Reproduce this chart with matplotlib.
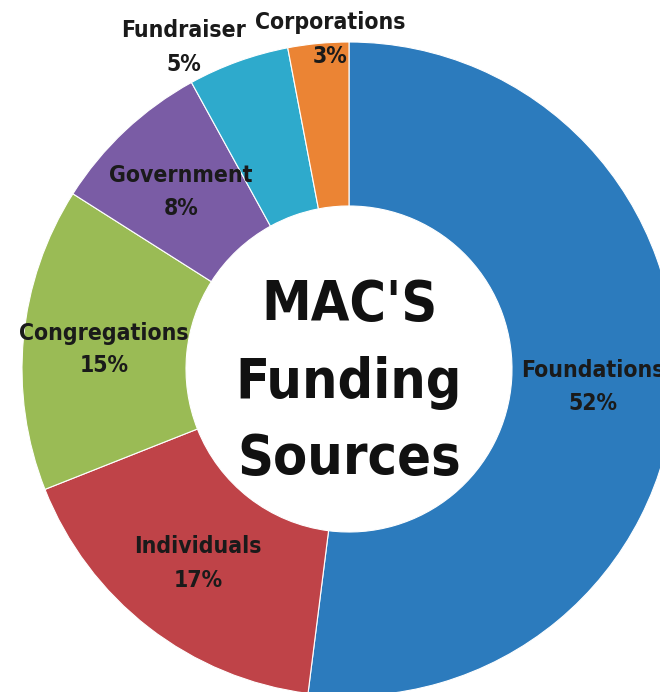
import matplotlib.pyplot as plt

# funding sources, clockwise from the top
sources = ["Foundations", "Individuals", "Congregations", "Government", "Fundraiser", "Corporations"]
shares = [52, 17, 15, 8, 5, 3]
colors = ["#2C7BBD", "#BF4348", "#9ABB55", "#7A5CA5", "#2EAACC", "#EB8434"]

# label anchors in pixel coords from top: x, baseline of name, baseline of percent
label_pos = [(593, 377, 410), (198, 553, 587), (104, 340, 372),
             (181, 182, 215), (184, 37, 71), (330, 29, 63)]

centre_words = ["MAC'S", "Funding", "Sources"]
centre_base = [320, 398, 474]

W, H = 660, 692
fig = plt.figure(figsize=(W / 100, H / 100), dpi=100)
ax = fig.add_axes([0, 0, 1, 1])

cx, cy, r, r_in = 349, H - 369, 327, 163
ax.pie(shares, colors=colors, startangle=90, counterclock=False,
       radius=r, center=(cx, cy), frame=True,
       wedgeprops=dict(width=r - r_in, edgecolor="white", linewidth=0.8))
ax.set_xlim(0, W)
ax.set_ylim(0, H)
ax.set_aspect("equal")
ax.axis("off")

fam = ["DejaVu Sans"]
for name, val, (x, y1, y2) in zip(sources, shares, label_pos):
    ax.text(x, H - y1, name, ha="center", va="baseline",
            fontsize=16.5, fontweight="bold", fontstretch="condensed",
            family=fam, color="#1a1a1a")
    ax.text(x, H - y2, f"{val}%", ha="center", va="baseline",
            fontsize=16.5, fontweight="bold", fontstretch="condensed",
            family=fam, color="#1a1a1a")

for word, yb in zip(centre_words, centre_base):
    ax.text(cx, H - yb, word, ha="center", va="baseline",
            fontsize=40, fontweight="bold", fontstretch="condensed",
            family=fam, color="#111111")

fig.savefig("out.png", dpi=100)
